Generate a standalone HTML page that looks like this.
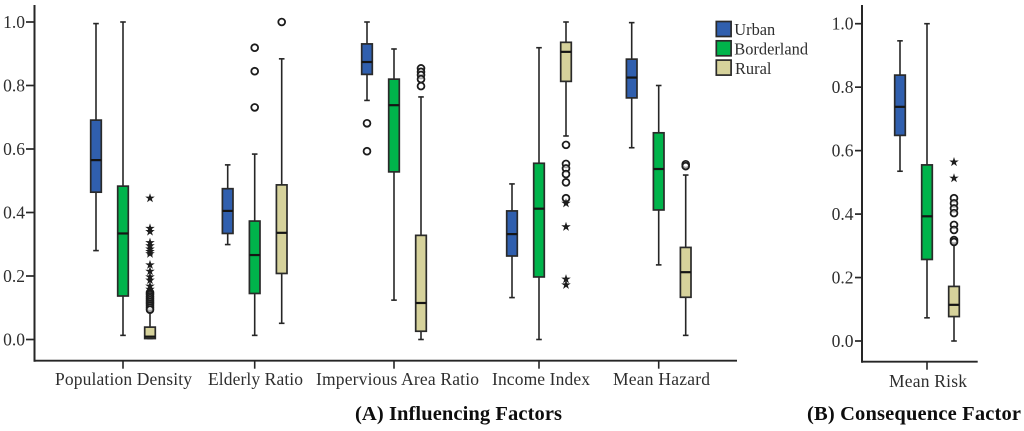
<!DOCTYPE html>
<html lang="en">
<head>
<meta charset="utf-8">
<title>Influencing and Consequence Factors Box Plots</title>
<style>
  html, body { margin: 0; padding: 0; background: #ffffff; }
  body { width: 1024px; height: 431px; overflow: hidden; }
  svg { display: block; filter: blur(0.3px); }
  text { font-family: "Liberation Serif", serif; fill: #2e2e2e; }
</style>
</head>
<body>
<svg id="chart" xmlns="http://www.w3.org/2000/svg" width="1024" height="431" viewBox="0 0 1024 431"></svg>
<script>
// Category labels: the first five are in panel A, the last one is in panel B
const categories = ['Population Density', 'Elderly Ratio', 'Impervious Area Ratio', 'Income Index', 'Mean Hazard', 'Mean Risk'];
const tickLabels = ['0.0', '0.2', '0.4', '0.6', '0.8', '1.0'];
const tickValues = [0, 0.2, 0.4, 0.6, 0.8, 1];
const seriesNames = ['Urban', 'Borderland', 'Rural'];

// Urban series
const urbanHigh = [0.995, 0.55, 1.0, 0.49, 0.998, 0.946];
const urbanQ3 = [0.691, 0.475, 0.931, 0.405, 0.883, 0.838];
const urbanMedian = [0.565, 0.405, 0.874, 0.332, 0.825, 0.738];
const urbanQ1 = [0.464, 0.334, 0.835, 0.263, 0.761, 0.648];
const urbanLow = [0.28, 0.299, 0.753, 0.132, 0.604, 0.535];
const urbanCircles = [[], [], [0.681, 0.593], [], [], []];
const urbanStars = [[], [], [], [], [], []];

// Borderland series
const borderHigh = [1.0, 0.584, 0.915, 0.919, 0.8, 1.0];
const borderQ3 = [0.483, 0.373, 0.82, 0.555, 0.651, 0.555];
const borderMedian = [0.334, 0.266, 0.738, 0.412, 0.537, 0.393];
const borderQ1 = [0.137, 0.145, 0.528, 0.197, 0.408, 0.257];
const borderLow = [0.013, 0.013, 0.124, 0.0, 0.235, 0.073];
const borderCircles = [[], [0.919, 0.845, 0.731], [], [], [], []];
const borderStars = [[], [], [], [], [], []];

// Rural series
const ruralHigh = [0.095, 0.884, 0.764, 1.0, 0.518, 0.31];
const ruralQ3 = [0.039, 0.487, 0.328, 0.936, 0.29, 0.172];
const ruralMedian = [0.009, 0.336, 0.115, 0.906, 0.212, 0.114];
const ruralQ1 = [0.003, 0.208, 0.026, 0.813, 0.133, 0.077];
const ruralLow = [0.003, 0.051, 0.0, 0.641, 0.013, 0.0];
const ruralCircles = [
  [0.148, 0.142, 0.136, 0.13, 0.124, 0.118, 0.112, 0.106, 0.1, 0.094],
  [1.0],
  [0.854, 0.843, 0.833, 0.82, 0.798],
  [0.613, 0.553, 0.539, 0.521, 0.495, 0.445],
  [0.552, 0.546],
  [0.45, 0.434, 0.418, 0.403, 0.366, 0.35, 0.318, 0.312]
];
const ruralStars = [
  [0.445, 0.35, 0.34, 0.305, 0.295, 0.285, 0.277, 0.27, 0.235, 0.215, 0.197, 0.187, 0.168, 0.158],
  [],
  [],
  [0.429, 0.355, 0.19, 0.172],
  [],
  [0.564, 0.513]
];

const svg = document.getElementById('chart');
const NS = 'http://www.w3.org/2000/svg';
const INK = '#262626';

function make(tag, props, text) {
  const node = document.createElementNS(NS, tag);
  for (const key in props) node.setAttribute(key, props[key]);
  if (text !== undefined) node.textContent = text;
  svg.appendChild(node);
  return node;
}

// Axis functions
function isPanelB(cat) { return cat === 5; }
function yScale(cat, value) {
  return isPanelB(cat) ? 341 - 317.3 * value : 339.5 - 317.5 * value;
}
function categoryCentre(cat) {
  return [123, 254.7, 394, 539, 658.7, 927][cat];
}
function xScale(cat, seriesIndex) {
  return categoryCentre(cat) + (seriesIndex - 1) * 27;
}
function labelSpan(cat) {
  return [[55, 137], [208, 95], [316, 163], [492, 98], [613, 97], [889, 78]][cat];
}

function starPath(cx, cy) {
  let d = '';
  for (let k = 0; k < 10; k++) {
    const radius = k % 2 === 0 ? 5 : 1.9;
    const angle = -Math.PI / 2 + k * Math.PI / 5;
    d += (k === 0 ? 'M' : 'L') + (cx + radius * Math.cos(angle)).toFixed(2) + ' ' + (cy + radius * Math.sin(angle)).toFixed(2);
  }
  return d + 'Z';
}

function drawAxes() {
  const panels = [
    { x: 34.5, top: 5, bottom: 360.7, right: 737, tickLeft: 26, labelX: 25, cat: 0, key: 'panel-a' },
    { x: 862, top: 5, bottom: 361.7, right: 977.7, tickLeft: 855, labelX: 853.5, cat: 5, key: 'panel-b' }
  ];
  panels.forEach(function (p) {
    const yAxis = make('line', { x1: p.x, x2: p.x, y1: p.top, y2: p.bottom + 1, stroke: INK, 'stroke-width': 2 });
    
    
    const xAxis = make('line', { x1: p.x, x2: p.right, y1: p.bottom, y2: p.bottom, stroke: INK, 'stroke-width': 1.9 });
    
    
    tickValues.forEach(function (value, i) {
      const y = yScale(p.cat, value);
      const tick = make('line', { x1: p.tickLeft, x2: p.x, y1: y, y2: y, stroke: INK, 'stroke-width': 1.7 });
      
      
      const label = make('text', { x: p.labelX, y: y + 6, 'text-anchor': 'end', 'font-size': 17.5 }, tickLabels[i]);
      
      
    });
  });
  categories.forEach(function (name, cat) {
    const x = categoryCentre(cat);
    const bottom = isPanelB(cat) ? 361.7 : 360.7;
    const tick = make('line', { x1: x, x2: x, y1: bottom, y2: bottom + 8, stroke: INK, 'stroke-width': 1.6 });
    
    
    const span = labelSpan(cat);
    const label = make('text', {
      x: span[0], y: isPanelB(cat) ? 387 : 385, 'font-size': 17.5,
      textLength: span[1], lengthAdjust: 'spacing'
    }, name);
    
    
  });
}

function drawSeries(seriesIndex, fill, key, high, q3, median, q1, low, circles, stars) {
  categories.forEach(function (name, cat) {
    const x = xScale(cat, seriesIndex);
    const y = function (value) { return yScale(cat, value); };

    const whisker = make('line', { x1: x, x2: x, y1: y(high[cat]), y2: y(low[cat]), stroke: INK, 'stroke-width': 1.6 });
    
    

    [high[cat], low[cat]].forEach(function (value) {
      const cap = make('line', { x1: x - 2.8, x2: x + 2.8, y1: y(value), y2: y(value), stroke: INK, 'stroke-width': 1.6 });
      
      
    });

    const box = make('rect', { x: x - 5.3, y: y(q3[cat]), width: 10.6, height: y(q1[cat]) - y(q3[cat]), fill: fill, stroke: '#2a2a2a', 'stroke-width': 1.7 });
    
    

    const med = make('line', { x1: x - 5.3, x2: x + 5.3, y1: y(median[cat]), y2: y(median[cat]), stroke: '#151515', 'stroke-width': 2.2 });
    
    

    circles[cat].forEach(function (value) {
      const dot = make('circle', { cx: x, cy: y(value), r: 3.4, fill: '#ffffff', 'fill-opacity': 0.6, stroke: '#1c1c1c', 'stroke-width': 1.8 });
      
      
    });

    stars[cat].forEach(function (value) {
      const star = make('path', { d: starPath(x, y(value)), fill: '#1c1c1c' });
      
      
    });
  });
}

function drawLegend() {
  const fills = ['#305fae', '#00b44b', '#d6d29b'];
  seriesNames.forEach(function (name, i) {
    const swatch = make('rect', { x: 716.3, y: 21.5 + i * 19.3, width: 14.8, height: 15, fill: fills[i], stroke: '#2a2a2a', 'stroke-width': 1.7 });
    
    
    const label = make('text', { x: i === 2 ? 735 : 734.3, y: 35 + i * 19.5, 'font-size': 16.4 }, name);
    
    
  });
}

function drawTitles() {
  const titleA = make('text', { x: 355, y: 420, 'font-size': 20.5, 'font-weight': 'bold', textLength: 207, lengthAdjust: 'spacing' }, '(A) Influencing Factors');
  
  
  titleA.style.fill = '#0d0d0d';
  const titleB = make('text', { x: 807, y: 420, 'font-size': 20.5, 'font-weight': 'bold', textLength: 214, lengthAdjust: 'spacing' }, '(B) Consequence Factor');
  
  
  titleB.style.fill = '#0d0d0d';
}

drawAxes();
drawSeries(0, '#305fae', 'urban', urbanHigh, urbanQ3, urbanMedian, urbanQ1, urbanLow, urbanCircles, urbanStars);
drawSeries(1, '#00b44b', 'borderland', borderHigh, borderQ3, borderMedian, borderQ1, borderLow, borderCircles, borderStars);
drawSeries(2, '#d6d29b', 'rural', ruralHigh, ruralQ3, ruralMedian, ruralQ1, ruralLow, ruralCircles, ruralStars);
drawLegend();
drawTitles();
</script>
</body>
</html>
